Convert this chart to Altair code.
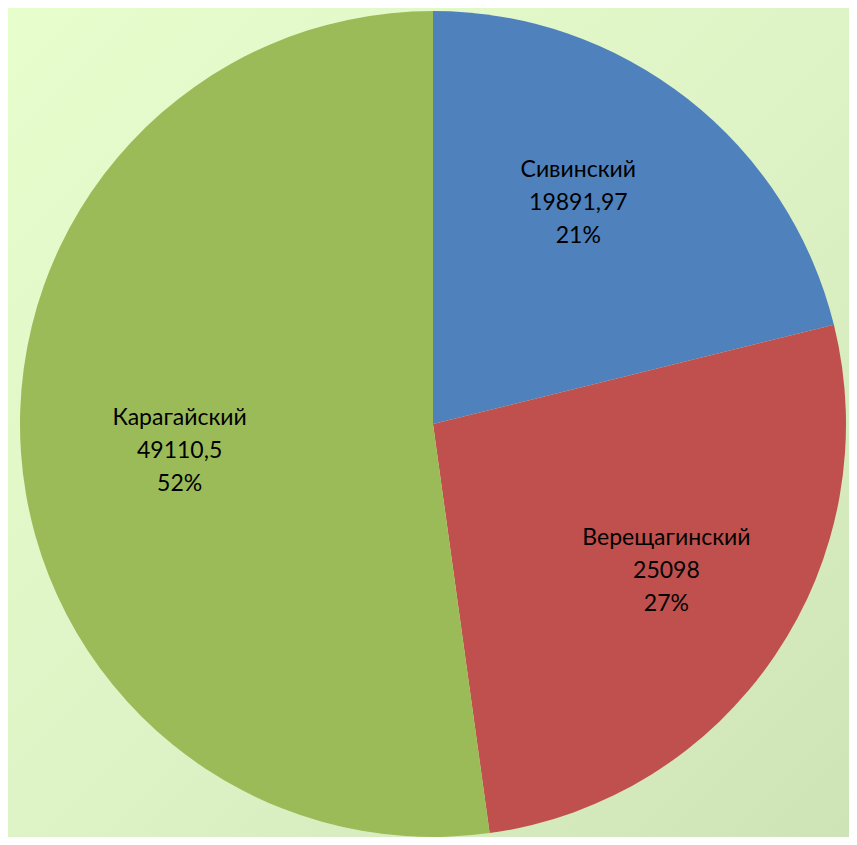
import altair as alt
import pandas as pd

districts = ["Сивинский", "Верещагинский", "Карагайский"]
values = [19891.97, 25098, 49110.5]
value_labels = ["19891,97", "25098", "49110,5"]
colors = ["#4f81bd", "#c0504d", "#9bbb59"]

total = sum(values)
percent_labels = [f"{round(v / total * 100)}%" for v in values]

df = pd.DataFrame({
    "district": districts,
    "value": values,
    "value_label": value_labels,
    "pct": percent_labels,
    "order": list(range(len(districts))),
})

W, H = 841, 829
CX, CY = 425, 416
R = 413
LR = 265
LINE = 33
# fine label nudges (pixels), matching the reference label placement
nudge = {"Сивинский": (-18, -12), "Верещагинский": (14, -2), "Карагайский": (11, 9)}

bg = alt.Chart(pd.DataFrame({"a": [0]})).mark_rect(
    color=alt.Gradient(
        gradient="linear",
        stops=[alt.GradientStop(color="#e7fdcc", offset=0),
               alt.GradientStop(color="#dff4c6", offset=0.5),
               alt.GradientStop(color="#cfe4b6", offset=1)],
        x1=0, y1=0, x2=1, y2=1,
    )
).encode(x=alt.value(0), x2=alt.value(W), y=alt.value(0), y2=alt.value(H))

base = alt.Chart(df).encode(
    theta=alt.Theta("value:Q", stack=True),
    order=alt.Order("order:Q"),
    x=alt.value(CX),
    y=alt.value(CY),
)

arc = base.mark_arc(radius=R).encode(
    color=alt.Color("district:N", scale=alt.Scale(domain=districts, range=colors), legend=None)
)

layers = [bg, arc]
txt_kw = dict(radius=LR, fontSize=23, font="Lato", color="#000000", align="center", baseline="middle")
for d in districts:
    ndx, ndy = nudge[d]
    for off, field in [(-LINE, "district:N"), (0, "value_label:N"), (LINE, "pct:N")]:
        layers.append(
            base.mark_text(dx=ndx, dy=off + ndy, **txt_kw)
            .encode(text=field, opacity=alt.condition(alt.datum.district == d, alt.value(1), alt.value(0)))
        )

chart = alt.layer(*layers).properties(
    width=W, height=H,
    padding=0,
    autosize=alt.AutoSizeParams(type="none"),
).configure_view(stroke=None)

chart.save("out.html", embed_options={"renderer": "svg", "actions": False})
